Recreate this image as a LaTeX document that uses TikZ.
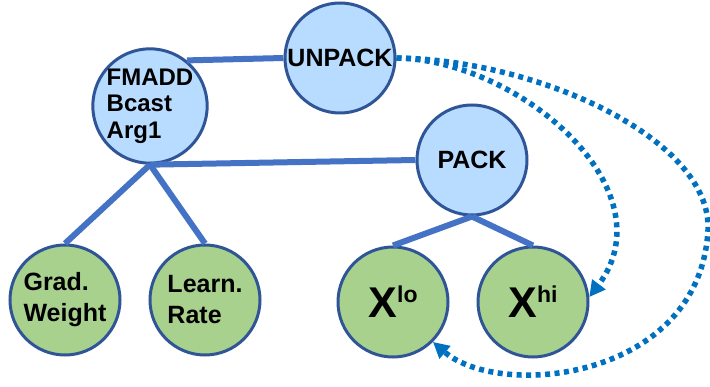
\documentclass[tikz,border=0pt]{standalone}
\usepackage{fontspec}
\setmainfont{Liberation Sans}
\usetikzlibrary{arrows.meta}
\definecolor{opfill}{HTML}{B8DCFF}
\definecolor{leaffill}{HTML}{A9D18E}
\definecolor{nodeline}{HTML}{2F5597}
\definecolor{linkblue}{HTML}{4472C4}
\definecolor{flowblue}{HTML}{0070C0}
\begin{document}
\begin{tikzpicture}[x=1pt,y=-1pt,
  op/.style={circle,draw=nodeline,line width=3pt,fill=opfill,minimum size=110pt,
    inner sep=0pt,align=left,font=\bfseries\fontsize{24}{26.5}\selectfont},
  leaf/.style={op,fill=leaffill,font=\bfseries\fontsize{25}{31}\selectfont},
  link/.style={draw=linkblue,line width=6pt},
  flow/.style={draw=flowblue,line width=5.5pt,dash pattern=on 5pt off 4.5pt,
    -{Triangle[length=16pt,width=16pt]}}]
\useasboundingbox (0,0) rectangle (710,387);

% operation nodes
\node[op,font=\bfseries\fontsize{25}{26}\selectfont] (unpack) at (340,58) {UNPACK};
\node[op] (fmadd) at (150,106) {FMADD\\Bcast\\Arg1};
\node[op,font=\bfseries\fontsize{25}{26}\selectfont] (pack) at (472,160) {PACK};

% operand nodes
\node[leaf] (grad) at (65,300) {Grad.\\Weight};
\node[leaf] (learn) at (205,300) {Learn.\\Rate};
\node[leaf] (xlo) at (393,302)
  {\fontsize{43}{43}\selectfont X\raisebox{15pt}{\fontsize{23}{23}\selectfont lo}};
\node[leaf] (xhi) at (533,302)
  {\fontsize{43}{43}\selectfont X\raisebox{15pt}{\fontsize{23}{23}\selectfont hi}};

% tree edges
\draw[link] (fmadd.51) -- (unpack.west);
\draw[link] (fmadd.south) -- (pack.west);
\draw[link] (fmadd.south) -- (grad.north);
\draw[link] (fmadd.south) -- (learn.north);
\draw[link] (pack.south) -- (xlo.north);
\draw[link] (pack.south) -- (xhi.north);

% data flow from UNPACK back to the operands
\draw[flow] (unpack.east) .. controls (520,60) and (670,190) .. (xhi.5);
\draw[flow] (unpack.east) .. controls (540,60) and (712,140) .. (708,230)
  .. controls (700,380) and (500,400) .. (xlo.-45);
\end{tikzpicture}
\end{document}
